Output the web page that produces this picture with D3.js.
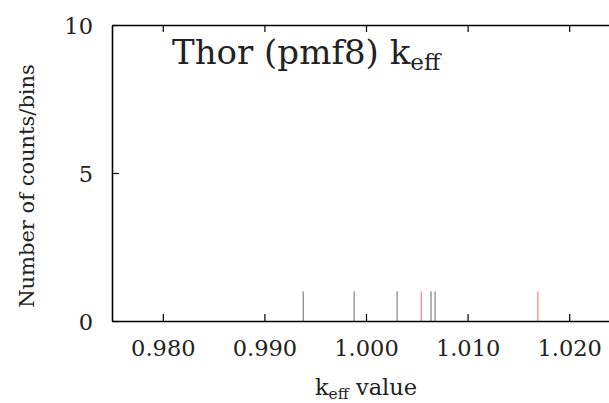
<!DOCTYPE html>
<html>
<head>
<meta charset="utf-8">
<script src="https://cdn.jsdelivr.net/npm/d3@7"></script>
<style>
  html, body { margin: 0; padding: 0; background: #fff; }
  svg { display: block; }
  text { font-family: "DejaVu Serif"; fill: #222; }
</style>
</head>
<body>
<svg id="chart" width="609" height="403"></svg>
<script>
// k_eff samples (counts per bin) and reference values
const sampleKeff = [0.99377, 0.99878, 1.00301, 1.00635, 1.00675];
const sampleCounts = [1, 1, 1, 1, 1];
const refKeff = [1.00539, 1.01687];
const refCounts = [1, 1];
const xTicks = [0.980, 0.990, 1.000, 1.010, 1.020];
const yTicks = [0, 5, 10];

const svg = d3.select("#chart");
const plotLeft = 112, plotTop = 25, plotBottom = 321, plotRight = 620;

const x = d3.scaleLinear().domain([0.975, 1.025]).range([plotLeft, plotRight]);
const y = d3.scaleLinear().domain([0, 10]).range([plotBottom, plotTop]);

// sample impulses
svg.append("g").selectAll("line").data(sampleKeff).join("line")
  .attr("x1", d => x(d) + 0.5).attr("x2", d => x(d) + 0.5)
  .attr("y1", y(0)).attr("y2", (d, i) => y(sampleCounts[i]))
  .attr("stroke", "#6a6a6a").attr("stroke-width", 1);

// reference impulses
svg.append("g").selectAll("line").data(refKeff).join("line")
  .attr("x1", d => x(d) + 0.5).attr("x2", d => x(d) + 0.5)
  .attr("y1", y(0)).attr("y2", (d, i) => y(refCounts[i]))
  .attr("stroke", "#ff6464").attr("stroke-width", 1);

// axes with inward ticks
const tickLen = 7;
const fmt = d3.format(".3f");

const xBottom = svg.append("g").attr("transform", `translate(0,${plotBottom})`)
  .call(d3.axisBottom(x).tickValues(xTicks).tickFormat(fmt).tickSizeInner(-tickLen).tickSizeOuter(0));
const xTop = svg.append("g").attr("transform", `translate(0,${plotTop})`)
  .call(d3.axisTop(x).tickValues(xTicks).tickFormat("").tickSizeInner(-tickLen).tickSizeOuter(0));
const yLeft = svg.append("g").attr("transform", `translate(${plotLeft},0)`)
  .call(d3.axisLeft(y).tickValues(yTicks).tickFormat(d3.format("d")).tickSizeInner(-tickLen).tickSizeOuter(0).tickPadding(19));

[xBottom, xTop, yLeft].forEach(g => {
  g.attr("font-family", null);
  g.select(".domain").attr("stroke", "#000").attr("stroke-width", 1.6);
  g.selectAll(".tick line").attr("stroke", "#000").attr("stroke-width", 1.2);
  g.selectAll(".tick text").attr("font-size", 22.5).attr("fill", "#222")
    .style("font-family", "'DejaVu Serif'");
});
xBottom.selectAll(".tick text").attr("dy", null).attr("y", 35);
yLeft.selectAll(".tick text").attr("dy", "0.36em");

// title
const title = svg.append("text").attr("x", 172).attr("y", 64).attr("font-size", 34);
title.append("tspan").text("Thor (pmf8) k");
title.append("tspan").attr("font-size", 23).attr("dy", 6).text("eff");

// x-axis label
const xl = svg.append("text").attr("x", 366).attr("y", 395).attr("text-anchor", "middle").attr("font-size", 22.5);
xl.append("tspan").text("k");
xl.append("tspan").attr("font-size", 15.5).attr("dy", 4).text("eff");
xl.append("tspan").attr("dy", -4).text(" value");

// y-axis label
svg.append("text")
  .attr("transform", "translate(34,186) rotate(-90)")
  .attr("text-anchor", "middle").attr("font-size", 21)
  .text("Number of counts/bins");
</script>
</body>
</html>
